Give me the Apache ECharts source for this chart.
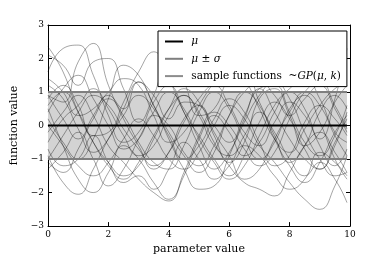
<!DOCTYPE html>
<html><head><meta charset="utf-8">
<script src="https://cdn.jsdelivr.net/npm/echarts@6/dist/echarts.min.js"></script>
<style>html,body{margin:0;padding:0;background:#fff}#c{width:390px;height:260px}</style>
</head><body><div id="c"></div>
<script>
var xs = [0,0.5,1,1.5,2,2.5,3,3.5,4,4.5,5,5.5,6,6.5,7,7.5,8,8.5,9,9.5,9.9];
var meanVals = [0,0,0,0,0,0,0,0,0,0,0,0,0,0,0,0,0,0,0,0,0];
var sigmaVals = [1,1,1,1,1,1,1,1,1,1,1,1,1,1,1,1,1,1,1,1,1];
var s1 = [0.9,0.7,1.9,2.45,1.2,0.2,-0.6,-1.3,-0.8,0.2,0.6,-0.3,-1.1,-0.5,0.8,1.1,0.3,-0.6,-0.2,0.7,1.2];
var s2 = [2.35,1.6,0.4,-0.5,-1.1,-1.5,-1.2,-0.4,0.5,1.1,0.7,-0.2,-0.9,-1.6,-1.3,-0.4,0.4,1.0,0.6,-0.3,-0.9];
var s3 = [1.6,2.3,2.4,1.5,0.3,-0.5,-0.2,0.7,1.2,0.4,-0.6,-1.3,-0.8,0.1,0.9,1.3,0.8,-0.2,-1.0,-1.5,-1.4];
var s4 = [2.1,1.8,1.2,1.9,2.0,1.1,0.1,0.9,2.0,1.3,0.3,0.5,1.4,1.6,0.7,-0.3,-1.1,-0.6,0.4,0.9,0.5];
var s5 = [0.2,-0.5,-1.0,-0.4,0.8,1.8,1.5,0.6,-0.2,-0.9,-1.4,-0.8,0.3,1.0,0.6,-0.4,-1.2,-1.7,-1.1,-0.2,0.3];
var s6 = [-0.9,-1.7,-2.05,-1.3,-0.4,0.3,0.9,0.5,-0.3,-1.0,-0.6,0.2,0.8,0.4,-0.5,-1.2,-0.9,0.1,0.6,0.2,-0.3];
var s7 = [0.5,-0.6,-1.6,-2.0,-1.4,-0.6,-1.0,-1.7,-2.2,-1.5,-0.4,0.3,-0.2,-0.9,-0.5,0.4,1.0,0.5,-0.6,-1.2,-0.7];
var s8 = [-1.3,-0.8,-0.2,-1.0,-1.8,-1.3,-0.4,0.4,1.0,0.5,-0.4,-1.1,-1.6,-1.2,-0.3,0.6,1.1,1.4,0.8,-0.2,-0.5];
var s9 = [0.8,1.2,0.6,-0.3,-0.2,0.7,1.6,2.2,1.4,0.4,-0.3,-1.0,-1.5,-0.9,0.1,0.7,0.2,-0.7,-1.3,-0.6,0.4];
var s10 = [-0.2,0.4,0.9,0.3,-0.6,-1.1,-1.6,-2.0,-2.25,-1.4,-0.3,0.4,0.0,-0.7,-1.2,-0.8,0.2,1.0,1.3,0.6,-0.1];
var s11 = [1.2,0.8,-0.1,-0.8,-0.4,0.5,1.3,0.6,-0.4,-1.3,-1.9,-1.8,-0.9,0.2,1.1,1.2,0.4,-0.5,-0.9,-0.3,0.6];
var s12 = [-0.5,0.2,0.6,1.1,0.5,-0.3,-0.9,-0.6,0.3,0.9,0.4,-0.5,-1.2,-1.7,-1.9,-2.1,-1.4,-0.6,-0.2,-0.8,-1.4];
var s13 = [0.0,-0.6,-1.2,-1.5,-1.1,-0.4,0.2,-0.3,-1.0,-1.3,-0.8,0.0,0.6,0.2,-0.6,-1.1,-1.7,-2.2,-2.5,-1.8,-0.9];
var s14 = [0.6,1.0,0.4,-0.5,-1.2,-1.6,-1.1,-0.3,0.5,0.9,0.3,-0.6,-0.9,-0.3,0.4,-0.2,-1.0,-1.5,-1.1,-1.6,-2.3];
var s15 = [-1.0,-0.3,0.4,0.9,0.6,-0.1,-0.7,-1.2,-0.8,0.1,0.8,1.2,0.6,-0.2,-0.6,0.1,0.7,0.3,-0.4,0.8,2.3];
var s16 = [0.4,1.1,1.5,0.8,0.0,-0.7,-0.4,0.3,0.0,-0.8,-1.2,-0.6,0.3,1.0,1.3,0.9,0.3,0.8,1.2,0.5,-0.2];
var s17 = [-1.1,-1.4,-0.7,0.2,0.8,0.3,-0.5,-1.1,-1.3,-0.6,0.4,1.0,0.5,-0.4,-1.0,-0.5,0.5,0.9,0.1,-1.0,-1.6];
var s18 = [1.4,1.0,0.3,0.5,1.0,1.4,1.2,0.3,-0.5,-0.2,0.6,1.3,1.9,1.4,0.5,-0.4,-0.8,-0.1,0.6,1.1,1.3];
var s19 = [-0.7,-1.2,-1.0,-0.3,-1.1,-1.7,-1.5,-1.9,-1.3,-0.5,-1.0,-1.6,-1.2,-0.6,-0.9,-1.5,-1.9,-1.6,-0.8,-1.1,-1.5];
var s20 = [0.9,0.2,-0.4,0.3,0.9,0.5,1.3,0.9,0.2,0.7,0.6,0.0,-0.5,0.3,1.1,0.4,-0.4,-1.0,-1.3,-0.5,0.2];
var samples = [s1,s2,s3,s4,s5,s6,s7,s8,s9,s10,s11,s12,s13,s14,s15,s16,s17,s18,s19,s20];
var xTicks = [0,2,4,6,8,10];
var yTicks = [-3,-2,-1,0,1,2,3];

var NAME_MU = 'mu', NAME_SIG = 'musig', NAME_S = 'samp';
function pts(vals, sign){ return xs.map(function(x,i){ return [x, (sign||1)*vals[i]]; }); }
var FONT = 'DejaVu Serif';
var series = [];
series.push({
  type:'line', name:'band', data: pts(meanVals), symbol:'none', silent:true,
  lineStyle:{width:0}, z:1,
  markArea:{silent:true, itemStyle:{color:'#d3d3d3'},
    data:[[{coord:[xs[0], -sigmaVals[0]]},{coord:[xs[xs.length-1], sigmaVals[0]]}]]}
});
samples.forEach(function(s){
  series.push({type:'line', name:NAME_S, data:pts(s), smooth:0.5, symbol:'none', silent:true,
    lineStyle:{width:0.8, color:'rgba(0,0,0,0.45)'}, itemStyle:{color:'rgba(0,0,0,0.45)'}, z:2});
});
series.push({type:'line', name:NAME_SIG, data:pts(sigmaVals), symbol:'none', silent:true,
  lineStyle:{width:2, color:'#7f7f7f'}, itemStyle:{color:'#8c8c8c'}, z:3});
series.push({type:'line', name:NAME_SIG, data:pts(sigmaVals,-1), symbol:'none', silent:true,
  lineStyle:{width:2, color:'#7f7f7f'}, itemStyle:{color:'#8c8c8c'}, z:3});
series.push({type:'line', name:NAME_MU, data:pts(meanVals), symbol:'none', silent:true,
  lineStyle:{width:2, color:'#000'}, itemStyle:{color:'#000'}, z:4});

var fmt = function(v){ return String(v).replace('-', '\u2212'); };
var axisCommon = {axisLine:{show:true, onZero:false, lineStyle:{color:'#000', width:1}},
  axisTick:{show:true, inside:true, length:4, lineStyle:{color:'#000'}},
  splitLine:{show:false}};
var chart = echarts.init(document.getElementById('c'), null, {renderer:'canvas'});
chart.setOption({
  animation:false,
  backgroundColor:'#fff',
  grid:{left:48, right:40, top:25, bottom:33},
  xAxis:[
    Object.assign({type:'value', min:xTicks[0], max:xTicks[xTicks.length-1], interval:2, position:'bottom',
      name:'parameter value', nameLocation:'middle', nameGap:17,
      nameTextStyle:{fontFamily:FONT, fontSize:11, color:'#000'},
      axisLabel:{fontFamily:FONT, fontSize:9, color:'#000', margin:4, formatter:fmt}}, axisCommon),
    Object.assign({type:'value', min:xTicks[0], max:xTicks[xTicks.length-1], interval:2, position:'top',
      axisLabel:{show:false}}, axisCommon)
  ],
  yAxis:[
    Object.assign({type:'value', min:yTicks[0], max:yTicks[yTicks.length-1], interval:1, position:'left',
      name:'function value', nameLocation:'middle', nameGap:16, nameRotate:90,
      nameTextStyle:{fontFamily:FONT, fontSize:11, color:'#000'},
      axisLabel:{fontFamily:FONT, fontSize:9, color:'#000', margin:4, formatter:fmt}}, axisCommon),
    Object.assign({type:'value', min:yTicks[0], max:yTicks[yTicks.length-1], interval:1, position:'right',
      axisLabel:{show:false}}, axisCommon)
  ],
  legend:{
    data:[NAME_MU, NAME_SIG, NAME_S], orient:'vertical', left:158, top:31,
    selectedMode:false,
    backgroundColor:'#fff', borderColor:'#000', borderWidth:1, borderRadius:0,
    padding:[5,6,5,6], itemWidth:18, itemHeight:10, itemGap:6.3,
    itemStyle:{opacity:0, borderWidth:0},
    textStyle:{fontFamily:FONT, fontSize:10.5, color:'#000',
      rich:{i:{fontFamily:FONT, fontStyle:'italic', fontSize:10.5, color:'#000'},
            n:{fontFamily:FONT, fontSize:10.5, color:'#000'}}},
    formatter:function(n){
      if(n===NAME_MU) return '{n| }{i|\u03bc}';
      if(n===NAME_SIG) return '{n| }{i|\u03bc}{n| \u00b1 }{i|\u03c3}';
      return '{n| sample functions  ~}{i|GP}{n|(}{i|\u03bc}{n|, }{i|k}{n|)}';
    }
  },
  series: series
});
</script></body></html>
